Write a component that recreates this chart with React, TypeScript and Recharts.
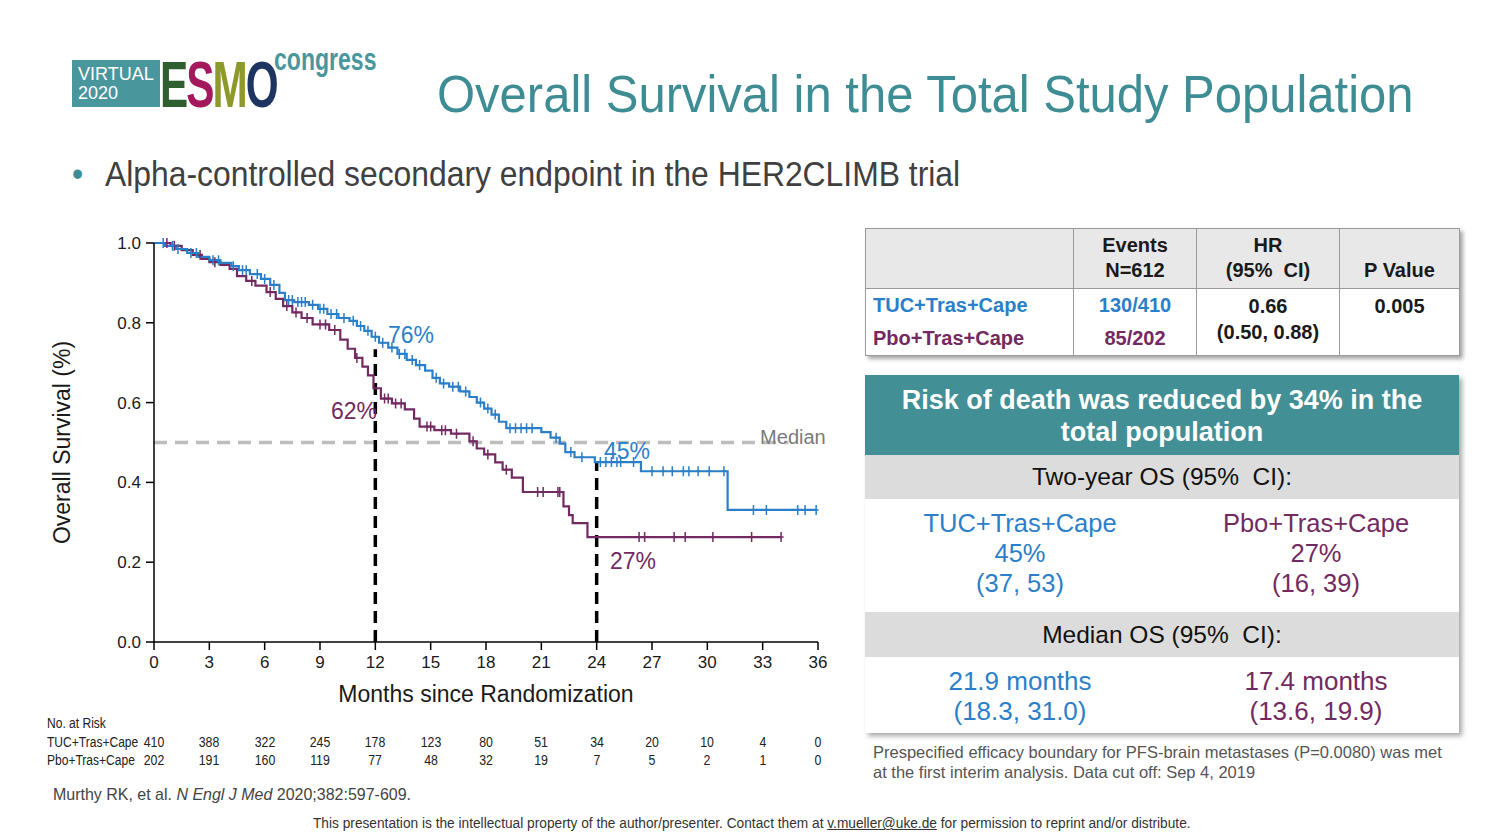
import React from "react";
import {
  LineChart,
  Line,
  XAxis,
  YAxis,
  ReferenceLine,
  ReferenceDot,
} from "recharts";

// KM step points [month, survival]
const tucSteps: [number, number][] = [
  [0, 1.0], [0.6, 0.993], [1.2, 0.985], [1.8, 0.975], [2.4, 0.965], [3.0, 0.957],
  [3.6, 0.95], [4.2, 0.942], [4.6, 0.932], [5.2, 0.922], [5.8, 0.91], [6.3, 0.895],
  [6.8, 0.875], [7.1, 0.857], [7.6, 0.852], [8.4, 0.845], [8.9, 0.835], [9.4, 0.822],
  [10.0, 0.812], [10.6, 0.805], [11.0, 0.792], [11.4, 0.78], [11.8, 0.765], [12.2, 0.75],
  [12.7, 0.738], [13.2, 0.722], [13.7, 0.707], [14.2, 0.694], [14.7, 0.68], [15.1, 0.662],
  [15.5, 0.648], [16.0, 0.64], [16.6, 0.628], [17.1, 0.614], [17.5, 0.6], [17.9, 0.585],
  [18.3, 0.57], [18.7, 0.552], [19.1, 0.536], [21.0, 0.526], [21.5, 0.512], [22.0, 0.497],
  [22.3, 0.476], [22.8, 0.463], [23.9, 0.451], [26.4, 0.428], [31.1, 0.331], [35.9, 0.331],
];
const pboSteps: [number, number][] = [
  [0, 1.0], [0.9, 0.993], [1.5, 0.982], [2.1, 0.97], [2.6, 0.96], [3.0, 0.952],
  [3.6, 0.945], [4.1, 0.935], [4.5, 0.917], [5.0, 0.905], [5.5, 0.893], [6.1, 0.877],
  [6.6, 0.86], [7.0, 0.842], [7.5, 0.826], [8.0, 0.812], [8.6, 0.796], [9.5, 0.782],
  [10.1, 0.758], [10.5, 0.735], [10.9, 0.712], [11.3, 0.69], [11.6, 0.668], [11.9, 0.636],
  [12.3, 0.61], [12.9, 0.598], [13.6, 0.583], [14.1, 0.56], [14.4, 0.54], [15.2, 0.531],
  [16.1, 0.522], [17.1, 0.503], [17.5, 0.485], [17.9, 0.47], [18.5, 0.45], [18.9, 0.432],
  [19.4, 0.412], [20.0, 0.376], [22.2, 0.34], [22.5, 0.318], [22.7, 0.298], [23.5, 0.263],
  [34.0, 0.263],
];

// censoring times (months)
const tucCensor = [
  0.5, 1.0, 1.3, 2.0, 2.3, 3.2, 3.5, 4.3, 4.8, 5.0, 5.6, 6.0, 6.5, 7.3, 7.5, 7.8, 8.0, 8.2,
  8.6, 9.0, 9.2, 9.6, 9.9, 10.3, 10.8, 11.2, 11.6, 12.0, 12.4, 12.9, 13.3, 13.6, 14.0, 14.4,
  15.3, 15.7, 16.2, 16.5, 16.9, 17.7, 18.1, 18.5, 19.3, 19.6, 19.9, 20.2, 20.5, 21.8, 22.6,
  23.2, 24.2, 24.5, 24.8, 25.1, 25.3, 26.0, 27.0, 27.6, 28.1, 28.7, 29.0, 29.5, 30.1, 30.9,
  32.5, 33.2, 34.9, 35.3, 35.9,
];
const pboCensor = [
  0.7, 1.1, 2.5, 3.3, 5.3, 6.3, 7.2, 7.7, 8.3, 9.0, 9.3, 9.8, 11.0, 12.5, 12.7, 13.1, 13.4,
  14.8, 15.0, 15.6, 15.8, 16.4, 17.3, 18.1, 19.1, 20.8, 21.1, 21.9, 22.0, 26.3, 26.6, 28.2,
  28.8, 30.3, 32.4, 34.0,
];

const monthTicks = [0, 3, 6, 9, 12, 15, 18, 21, 24, 27, 30, 33, 36];
const survTicks = [0, 0.2, 0.4, 0.6, 0.8, 1.0];
const tucRisk = [410, 388, 322, 245, 178, 123, 80, 51, 34, 20, 10, 4, 0];
const pboRisk = [202, 191, 160, 119, 77, 48, 32, 19, 7, 5, 2, 1, 0];

const BLUE = "#2b7fc9";
const PURPLE = "#722a61";
const TEAL = "#428f96";

type Pt = { t: number; s: number; c: boolean };

function buildSeries(steps: [number, number][], censor: number[]): Pt[] {
  const pts: Pt[] = steps.map(([t, s]) => ({ t, s, c: false }));
  censor.forEach((ct) => {
    let s = steps[0][1];
    steps.forEach(([t, v]) => {
      if (t <= ct) s = v;
    });
    pts.push({ t: ct, s, c: true });
  });
  return pts.sort((a, b) => a.t - b.t || (a.c ? 1 : -1));
}

const tucData = buildSeries(tucSteps, tucCensor);
const pboData = buildSeries(pboSteps, pboCensor);

const censorDot = (color: string) => (props: any) => {
  const { cx, cy, payload, index } = props;
  if (!payload || !payload.c) return <g key={`n${index}`} />;
  return (
    <path
      key={`c${index}`}
      d={`M${cx},${cy - 5}V${cy + 5}M${cx - 2.5},${cy}H${cx + 2.5}`}
      stroke={color}
      strokeWidth={1.5}
    />
  );
};

// plot geometry (page px) for the risk table
const PLOT_X0 = 154;
const PLOT_X1 = 818;
const xPos = (m: number) => PLOT_X0 + ((PLOT_X1 - PLOT_X0) * m) / 36;

const SANS = '"Liberation Sans", Arial, sans-serif';

const abs = (left: number, top: number, extra: React.CSSProperties = {}): React.CSSProperties => ({
  position: "absolute",
  left,
  top,
  ...extra,
});

const narrow = (k: number, origin = "left"): React.CSSProperties => ({
  transform: `scaleX(${k})`,
  transformOrigin: origin,
  whiteSpace: "nowrap",
});

const riskText: React.CSSProperties = { fontSize: 14, color: "#222", fontFamily: SANS };

const cell: React.CSSProperties = {
  border: "1px solid #9a9a9a",
  padding: 0,
  textAlign: "center",
  fontWeight: "bold",
  fontSize: 20,
};

export default function App() {
  return (
    <div
      style={{
        position: "absolute",
        left: 0,
        top: 0,
        width: 1505,
        height: 838,
        overflow: "hidden",
        background: "#fff",
        fontFamily: SANS,
      }}
    >
      {/* logo */}
      <div style={abs(72, 60, { width: 88, height: 47, background: "#4a969d", color: "#fff", fontSize: 18, lineHeight: "19px", paddingTop: 5, paddingLeft: 6, boxSizing: "border-box" })}>
        VIRTUAL
        <br />
        2020
      </div>
      <div style={abs(160, 52, { fontWeight: 900, fontSize: 65, lineHeight: "65px", letterSpacing: -3, ...narrow(0.65) })}>
        <span style={{ color: "#2f5f30" }}>E</span>
        <span style={{ color: "#a3195b" }}>S</span>
        <span style={{ color: "#8d9a2b" }}>M</span>
        <span style={{ color: "#1e3562" }}>O</span>
      </div>
      <div style={abs(274, 41, { fontSize: 32, color: "#4a969d", fontWeight: "bold", ...narrow(0.72) })}>congress</div>

      {/* title */}
      <div style={abs(437, 64, { fontSize: 52, color: "#3f8d94", ...narrow(0.942) })}>
        Overall Survival in the Total Study Population
      </div>
      <div style={abs(72, 154, { fontSize: 35, color: "#404040", ...narrow(0.91) })}>
        <span style={{ color: "#3f8d94", marginRight: 24 }}>•</span>
        Alpha-controlled secondary endpoint in the HER2CLIMB trial
      </div>

      {/* KM chart */}
      <div style={abs(40, 225, { width: 800, height: 490 })}>
        <LineChart width={800} height={490} margin={{ top: 18, right: 22, left: 14, bottom: 13 }}>
          <XAxis
            type="number"
            dataKey="t"
            domain={[0, 36]}
            ticks={monthTicks}
            interval={0}
            tickSize={8}
            tickMargin={6}
            height={60}
            axisLine={{ stroke: "#000", strokeWidth: 1.5 }}
            tickLine={{ stroke: "#000", strokeWidth: 1.5 }}
            tick={{ fill: "#1a1a1a", fontSize: 17, fontFamily: SANS }}
            label={{ value: "Months since Randomization", position: "insideBottom", offset: 0, fill: "#1a1a1a", fontSize: 23, fontFamily: SANS }}
          />
          <YAxis
            type="number"
            dataKey="s"
            domain={[0, 1]}
            ticks={survTicks}
            interval={0}
            width={100}
            tickSize={8}
            tickMargin={5}
            tickFormatter={(v: number) => v.toFixed(1)}
            axisLine={{ stroke: "#000", strokeWidth: 1.5 }}
            tickLine={{ stroke: "#000", strokeWidth: 1.5 }}
            tick={{ fill: "#1a1a1a", fontSize: 17, fontFamily: SANS }}
            label={{ value: "Overall Survival (%)", angle: -90, position: "insideLeft", offset: 8, fill: "#1a1a1a", fontSize: 23, fontFamily: SANS, style: { textAnchor: "middle" } }}
          />
          <ReferenceLine
            segment={[{ x: 0, y: 0.5 }, { x: 34.4, y: 0.5 }]}
            stroke="#bdbdbd"
            strokeWidth={3.5}
            strokeDasharray="13 8"
          />
          <ReferenceLine
            segment={[{ x: 12, y: 0 }, { x: 12, y: 0.734 }]}
            stroke="#000"
            strokeWidth={3.5}
            strokeDasharray="12 7"
          />
          <ReferenceLine
            segment={[{ x: 24, y: 0 }, { x: 24, y: 0.451 }]}
            stroke="#000"
            strokeWidth={3.5}
            strokeDasharray="12 7"
          />
          <Line
            data={pboData}
            dataKey="s"
            type="stepAfter"
            stroke={PURPLE}
            strokeWidth={2.2}
            dot={censorDot(PURPLE)}
            activeDot={false}
            isAnimationActive={false}
          />
          <Line
            data={tucData}
            dataKey="s"
            type="stepAfter"
            stroke={BLUE}
            strokeWidth={2.2}
            dot={censorDot(BLUE)}
            activeDot={false}
            isAnimationActive={false}
          />
          <ReferenceDot x={13.93} y={0.769} r={0} stroke="none" label={{ value: "76%", position: "center", fill: BLUE, fontSize: 23, fontFamily: SANS }} />
          <ReferenceDot x={10.84} y={0.579} r={0} stroke="none" label={{ value: "62%", position: "center", fill: PURPLE, fontSize: 23, fontFamily: SANS }} />
          <ReferenceDot x={25.64} y={0.479} r={0} stroke="none" label={{ value: "45%", position: "center", fill: BLUE, fontSize: 23, fontFamily: SANS }} />
          <ReferenceDot x={25.97} y={0.203} r={0} stroke="none" label={{ value: "27%", position: "center", fill: PURPLE, fontSize: 23, fontFamily: SANS }} />
          <ReferenceDot x={34.64} y={0.514} r={0} stroke="none" label={{ value: "Median", position: "center", fill: "#7a7a7a", fontSize: 20, fontFamily: SANS }} />
        </LineChart>
      </div>

      {/* number at risk */}
      <div style={abs(47, 715, { ...riskText, ...narrow(0.86) })}>No. at Risk</div>
      <div style={abs(47, 734, { ...riskText, ...narrow(0.86) })}>TUC+Tras+Cape</div>
      <div style={abs(47, 752, { ...riskText, ...narrow(0.86) })}>Pbo+Tras+Cape</div>
      {monthTicks.map((m, i) => (
        <React.Fragment key={m}>
          <div style={abs(xPos(m) - 20, 734, { width: 40, textAlign: "center", ...riskText, ...narrow(0.88, "center") })}>
            {tucRisk[i]}
          </div>
          <div style={abs(xPos(m) - 20, 752, { width: 40, textAlign: "center", ...riskText, ...narrow(0.88, "center") })}>
            {pboRisk[i]}
          </div>
        </React.Fragment>
      ))}

      <div style={abs(53, 785, { fontSize: 17, color: "#444", ...narrow(0.94) })}>
        Murthy RK, et al. <i>N Engl J Med</i> 2020;382:597-609.
      </div>
      <div style={abs(313, 815, { fontSize: 14, color: "#333", ...narrow(0.979) })}>
        This presentation is the intellectual property of the author/presenter. Contact them at{" "}
        <span style={{ textDecoration: "underline" }}>v.mueller@uke.de</span> for permission to reprint and/or distribute.
      </div>

      {/* HR table */}
      <div style={abs(865, 228, { boxShadow: "3px 3px 4px rgba(0,0,0,0.35)" })}>
        <table style={{ borderCollapse: "collapse", width: 594, fontFamily: SANS, color: "#1a1a1a", tableLayout: "fixed" }}>
          <colgroup>
            <col style={{ width: 208 }} />
            <col style={{ width: 123 }} />
            <col style={{ width: 143 }} />
            <col style={{ width: 120 }} />
          </colgroup>
          <tbody>
            <tr style={{ height: 60, background: "#e8e8e8" }}>
              <td style={cell} />
              <td style={{ ...cell, verticalAlign: "bottom", lineHeight: "25px", paddingBottom: 5 }}>Events<br />N=612</td>
              <td style={{ ...cell, verticalAlign: "bottom", lineHeight: "25px", paddingBottom: 5 }}>HR<br />(95%&nbsp; CI)</td>
              <td style={{ ...cell, verticalAlign: "bottom", lineHeight: "25px", paddingBottom: 5 }}>P Value</td>
            </tr>
            <tr style={{ height: 65, background: "#fff" }}>
              <td style={{ ...cell, textAlign: "left", paddingLeft: 7, verticalAlign: "top", lineHeight: "33px" }}>
                <span style={{ color: BLUE }}>TUC+Tras+Cape</span>
                <br />
                <span style={{ color: PURPLE }}>Pbo+Tras+Cape</span>
              </td>
              <td style={{ ...cell, verticalAlign: "top", lineHeight: "33px" }}>
                <span style={{ color: BLUE }}>130/410</span>
                <br />
                <span style={{ color: PURPLE }}>85/202</span>
              </td>
              <td style={{ ...cell, verticalAlign: "top", lineHeight: "26px", paddingTop: 4 }}>
                0.66
                <br />
                (0.50, 0.88)
              </td>
              <td style={{ ...cell, verticalAlign: "top", lineHeight: "26px", paddingTop: 4 }}>0.005</td>
            </tr>
          </tbody>
        </table>
      </div>

      {/* summary box */}
      <div style={abs(865, 375, { width: 594, height: 358, boxShadow: "3px 3px 5px rgba(0,0,0,0.35)", background: "#fff", textAlign: "center" })}>
        <div style={{ height: 80, background: TEAL, color: "#fff", fontWeight: "bold", fontSize: 27, lineHeight: "32px", paddingTop: 9, boxSizing: "border-box", whiteSpace: "nowrap" }}>
          Risk of death was reduced by 34% in the
          <br />
          total population
        </div>
        <div style={{ height: 44, background: "#dcdcdc", color: "#111", fontSize: 24.5, lineHeight: "44px" }}>
          Two-year OS (95%&nbsp; CI):
        </div>
        <div style={{ height: 113, display: "flex", fontSize: 25.5, lineHeight: "30px", paddingTop: 9, boxSizing: "border-box" }}>
          <div style={{ width: 310, color: BLUE }}>
            TUC+Tras+Cape
            <br />
            45%
            <br />
            (37, 53)
          </div>
          <div style={{ width: 284, color: PURPLE, paddingRight: 2, boxSizing: "border-box" }}>
            Pbo+Tras+Cape
            <br />
            27%
            <br />
            (16, 39)
          </div>
        </div>
        <div style={{ height: 45, background: "#dcdcdc", color: "#111", fontSize: 24.5, lineHeight: "45px" }}>
          Median OS (95%&nbsp; CI):
        </div>
        <div style={{ height: 76, display: "flex", fontSize: 26, lineHeight: "30px", paddingTop: 9, boxSizing: "border-box" }}>
          <div style={{ width: 310, color: BLUE }}>
            21.9 months
            <br />
            (18.3, 31.0)
          </div>
          <div style={{ width: 284, color: PURPLE, paddingRight: 2, boxSizing: "border-box" }}>
            17.4 months
            <br />
            (13.6, 19.9)
          </div>
        </div>
      </div>

      <div style={abs(873, 742, { fontSize: 16.5, color: "#555", lineHeight: "20px", whiteSpace: "nowrap" })}>
        Prespecified efficacy boundary for PFS-brain metastases (P=0.0080) was met
        <br />
        at the first interim analysis. Data cut off: Sep 4, 2019
      </div>
    </div>
  );
}
